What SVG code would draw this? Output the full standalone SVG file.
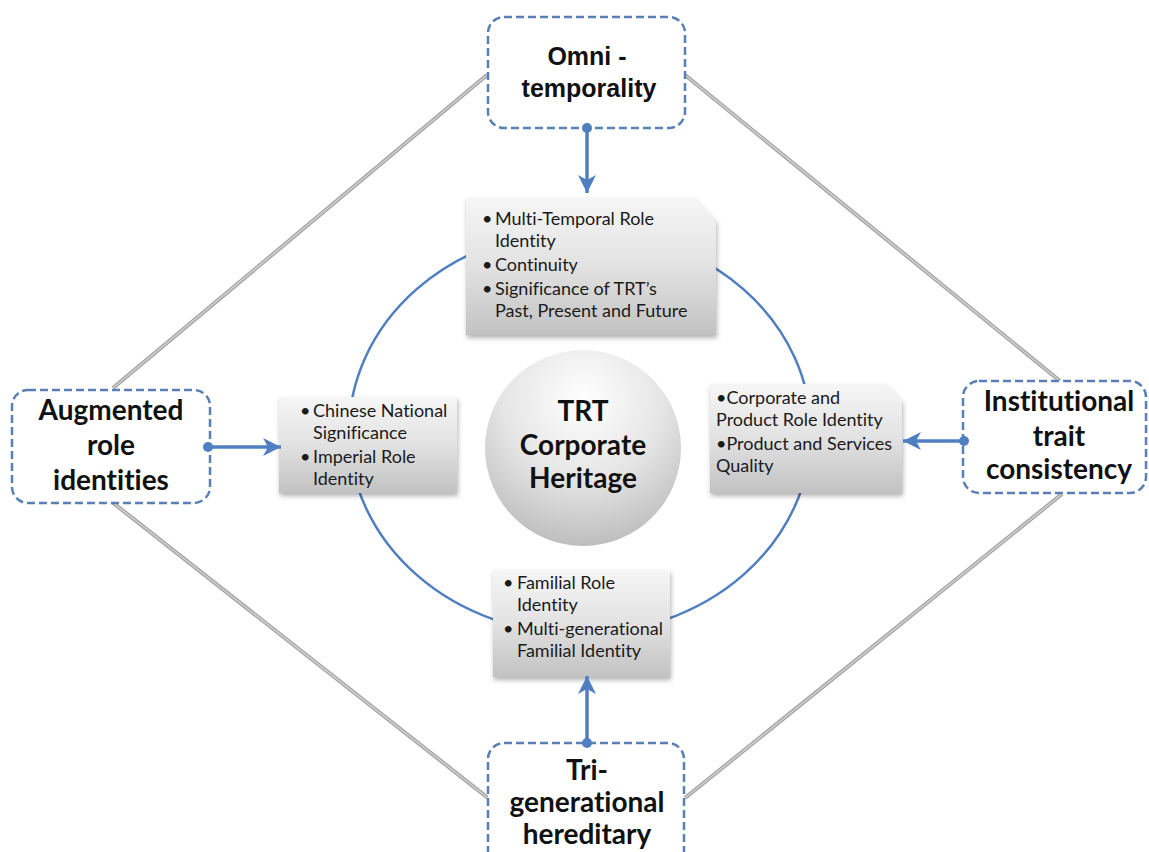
<svg xmlns="http://www.w3.org/2000/svg" width="1149" height="852" viewBox="0 0 1149 852">
<defs>
<style>
text{font-variant-ligatures:none;font-feature-settings:"liga" 0,"dlig" 0}
.dia{stroke:#a4a4a4;stroke-width:4;fill:none}
.diaI{stroke:#d0d0d0;stroke-width:1.5;fill:none}
.outer{fill:#ffffff;stroke:#5a7fb6;stroke-width:2.5;stroke-dasharray:8 4}
.gbox{fill:url(#gg);filter:url(#sh)}
.arr{stroke:#4f7fc0;stroke-width:3.5;fill:none;marker-end:url(#ah)}
.dot{fill:#4f7fc0}
.big{font-family:Lato,"Liberation Sans",sans-serif;font-weight:bold;font-size:28px;fill:#111;text-anchor:middle}
.arial{font-family:"Liberation Sans",Arial,sans-serif;font-weight:bold;font-size:25px;fill:#111;text-anchor:middle}
.sm{font-family:Lato,"Liberation Sans",sans-serif;font-size:18px;fill:#1a1a1a}
</style>
<linearGradient id="gg" x1="0" y1="0" x2="0" y2="1">
<stop offset="0" stop-color="#f6f6f6"/>
<stop offset="0.5" stop-color="#e2e2e2"/>
<stop offset="1" stop-color="#c2c2c2"/>
</linearGradient>
<radialGradient id="cg" cx="50%" cy="25%" r="80%">
<stop offset="0" stop-color="#ffffff"/>
<stop offset="0.5" stop-color="#e6e6e6"/>
<stop offset="1" stop-color="#b8b8b8"/>
</radialGradient>
<filter id="sh" x="-10%" y="-10%" width="125%" height="130%">
<feDropShadow dx="1" dy="3" stdDeviation="2.5" flood-color="#000" flood-opacity="0.3"/>
</filter>
<marker id="ah" markerUnits="userSpaceOnUse" markerWidth="20" markerHeight="18" refX="18" refY="9" orient="auto">
<path d="M0,0 L18,9 L0,18 L5,9 z" fill="#4f7fc0"/>
</marker>
</defs>
<rect width="1149" height="852" fill="#ffffff"/>
<g id="diamond">
<line class="dia" x1="487" y1="75" x2="113" y2="388"/>
<line class="diaI" x1="487" y1="75" x2="113" y2="388"/>
<line class="dia" x1="685" y1="75" x2="1060" y2="381"/>
<line class="diaI" x1="685" y1="75" x2="1060" y2="381"/>
<line class="dia" x1="112" y1="502" x2="488" y2="798"/>
<line class="diaI" x1="112" y1="502" x2="488" y2="798"/>
<line class="dia" x1="1062" y1="494" x2="685" y2="798"/>
<line class="diaI" x1="1062" y1="494" x2="685" y2="798"/>
</g>
<g id="ring">
<ellipse cx="580" cy="432" rx="231" ry="202" fill="none" stroke="#4f7fc0" stroke-width="2.5"/>
</g>
<g id="center">
<circle cx="583" cy="448" r="98" fill="url(#cg)"/>
<text class="big" x="583" y="421" font-size="29">TRT</text>
<text class="big" x="583" y="455" font-size="29">Corporate</text>
<text class="big" x="583" y="488" font-size="29">Heritage</text>
</g>
<g id="omni">
<rect class="outer" x="488" y="17" width="197" height="111" rx="16"/>
<text class="arial" x="587" y="65">Omni -</text>
<text class="arial" x="589" y="97">temporality</text>
</g>
<g id="augmented">
<rect class="outer" x="12" y="390" width="198" height="113" rx="16"/>
<text class="big" x="111" y="420">Augmented</text>
<text class="big" x="111" y="455">role</text>
<text class="big" x="111" y="490">identities</text>
</g>
<g id="institutional">
<rect class="outer" x="963" y="381" width="183" height="112" rx="16"/>
<text class="big" x="1059" y="411">Institutional</text>
<text class="big" x="1059" y="446">trait</text>
<text class="big" x="1059" y="479">consistency</text>
</g>
<g id="trigenerational">
<rect class="outer" x="488" y="743" width="196" height="130" rx="16"/>
<text class="big" font-size="26"><tspan x="587" y="780">Tri-</tspan><tspan x="587" y="812">generational</tspan><tspan x="587" y="844">hereditary</tspan></text>
</g>
<g id="box-top">
<path class="gbox" d="M466,198 L694,198 L716,221 L716,335 L466,335 Z"/>
<text class="sm" x="482" y="225">•</text><text class="sm" x="495" y="225">Multi-Temporal Role</text>
<text class="sm" x="495" y="247">Identity</text>
<text class="sm" x="482" y="271">•</text><text class="sm" x="495" y="271">Continuity</text>
<text class="sm" x="482" y="295">•</text><text class="sm" x="495" y="295">Significance of TRT’s</text>
<text class="sm" x="495" y="317">Past, Present and Future</text>
</g>
<g id="box-left">
<rect class="gbox" x="279" y="397" width="178" height="96"/>
<text class="sm" x="300" y="417">•</text><text class="sm" x="313" y="417">Chinese National</text>
<text class="sm" x="313" y="439">Significance</text>
<text class="sm" x="300" y="463">•</text><text class="sm" x="313" y="463">Imperial Role</text>
<text class="sm" x="313" y="485">Identity</text>
</g>
<g id="box-right">
<path class="gbox" d="M710,384 L886,384 L902,401 L902,493 L710,493 Z"/>
<text class="sm" x="716" y="404">•Corporate and</text>
<text class="sm" x="716" y="426">Product Role Identity</text>
<text class="sm" x="716" y="450">•Product and Services</text>
<text class="sm" x="716" y="472">Quality</text>
</g>
<g id="box-bottom">
<rect class="gbox" x="493" y="570" width="177" height="107"/>
<text class="sm" x="503" y="589">•</text><text class="sm" x="517" y="589">Familial Role</text>
<text class="sm" x="517" y="611">Identity</text>
<text class="sm" x="503" y="635">•</text><text class="sm" x="517" y="635">Multi-generational</text>
<text class="sm" x="517" y="657">Familial Identity</text>
</g>
<g id="connectors">
<line class="arr" x1="587" y1="128" x2="587" y2="193"/>
<circle class="dot" cx="587" cy="128" r="5"/>
<line class="arr" x1="208" y1="447" x2="281" y2="447"/>
<circle class="dot" cx="208" cy="447" r="5"/>
<line class="arr" x1="964" y1="441" x2="903" y2="441"/>
<circle class="dot" cx="964" cy="441" r="5"/>
<line class="arr" x1="587" y1="743" x2="587" y2="676"/>
<circle class="dot" cx="587" cy="743" r="5"/>
</g>
</svg>
